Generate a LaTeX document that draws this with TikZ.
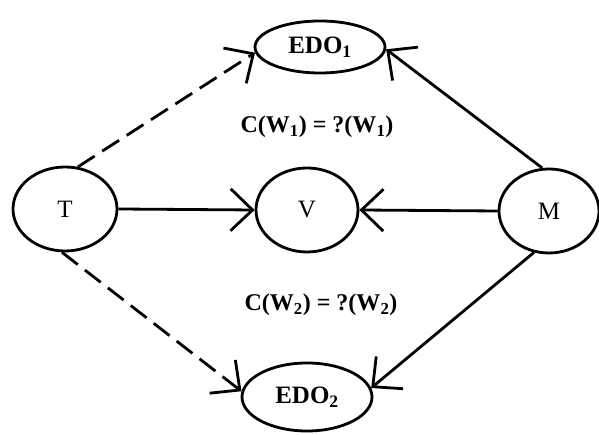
\documentclass[tikz,border=0pt]{standalone}
\usepackage{fontspec}
\setmainfont{Liberation Serif}
\usetikzlibrary{shapes.geometric,arrows.meta}
\tikzset{
  every node/.style={inner sep=0pt},
  var/.style={ellipse,draw,minimum width=104pt,minimum height=84pt,
    font=\fontsize{25}{30}\selectfont},
  edo/.style={ellipse,draw,minimum width=130pt,
    font=\bfseries\fontsize{25}{28}\selectfont},
  eqlabel/.style={font=\bfseries\fontsize{24}{28}\selectfont},
  hint/.style={dash pattern=on 20pt off 9pt},
}

\begin{document}
\begin{tikzpicture}[
  x=1pt,y=1pt,
  line width=2.8pt,
  ->,>={Straight Barb[length=22pt,width=42pt]}
]
\useasboundingbox (0,0) rectangle (599,435);

% Variables
\node[var] (T) at (65,226) {T};
\node[var,minimum width=102pt] (V) at (307,225) {V};
\node[var,minimum width=100pt] (M) at (549,224) {M};
\node[edo,minimum height=52pt] (E1) at (320,388) {EDO\textsubscript{1}};
\node[edo,minimum height=68pt] (E2) at (307,38) {EDO\textsubscript{2}};

% Equations
\node[eqlabel] (C1) at (317,308) {C(W\textsubscript{1}) = ?(W\textsubscript{1})};
\node[eqlabel] (C2) at (321,130) {C(W\textsubscript{2}) = ?(W\textsubscript{2})};

% Connections
\path
(T.east) edge (V.west)
(M.west) edge (V.east)
(M.99) edge (E1.358)
(M.250) edge (E2.8)
(T.73) edge[hint] (E1.185)
(T.266) edge[hint] (E2.175);

\end{tikzpicture}
\end{document}
